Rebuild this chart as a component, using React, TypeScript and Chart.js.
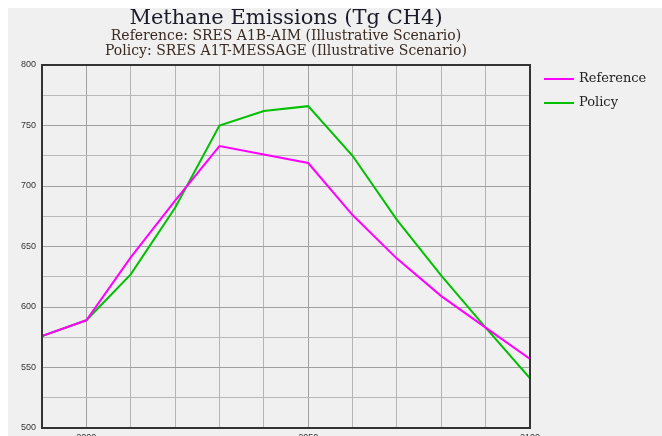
import React, { useEffect, useRef } from "react";
import { Chart, registerables } from "chart.js";

Chart.register(...registerables);

const years = [1990, 2000, 2010, 2020, 2030, 2040, 2050, 2060, 2070, 2080, 2090, 2100];
const referenceValues = [576, 589, 641, 688, 733, 726, 719, 676, 640, 609, 583, 557];
const policyValues = [576, 589, 627, 682, 750, 762, 766, 725, 672, 626, 583, 541];
const xTickLabels = [2000, 2050, 2100];
const yTickLabels = [500, 550, 600, 650, 700, 750, 800];

const titleText = "Methane Emissions (Tg CH4)";
const subtitleLines = [
  "Reference: SRES A1B-AIM (Illustrative Scenario)",
  "Policy: SRES A1T-MESSAGE (Illustrative Scenario)",
];

const W = 662;
const H = 450;
const SERIF = "'DejaVu Serif', 'Liberation Serif', serif";

export default function App() {
  const ref = useRef<HTMLCanvasElement | null>(null);

  useEffect(() => {
    if (!ref.current) return;
    const frame = {
      id: "frame",
      beforeDraw(chart: any) {
        const { ctx } = chart;
        ctx.save();
        ctx.fillStyle = "#ffffff";
        ctx.fillRect(0, 0, W, H);
        ctx.fillStyle = "#f0f0f0";
        ctx.fillRect(8, 8, W - 8, H - 8);
        ctx.restore();
      },
      afterDatasetsDraw(chart: any) {
        const { ctx, chartArea } = chart;
        ctx.save();
        ctx.strokeStyle = "#333";
        ctx.lineWidth = 2;
        ctx.strokeRect(chartArea.left, chartArea.top, chartArea.right - chartArea.left, chartArea.bottom - chartArea.top);
        ctx.restore();
      },
      afterDraw(chart: any) {
        const { ctx, chartArea } = chart;
        ctx.save();
        chart.data.datasets.forEach((ds: any, i: number) => {
          const y = chartArea.top + 14 + i * 24;
          const x0 = chartArea.right + 14;
          ctx.strokeStyle = ds.borderColor;
          ctx.lineWidth = 2;
          ctx.beginPath();
          ctx.moveTo(x0, y);
          ctx.lineTo(x0 + 30, y);
          ctx.stroke();
          ctx.fillStyle = "#222";
          ctx.font = "13px " + SERIF;
          ctx.textBaseline = "middle";
          ctx.textAlign = "left";
          ctx.fillText(ds.label, x0 + 35, y);
        });
        ctx.restore();
      },
    };
    const chart = new Chart(ref.current, {
      type: "line",
      data: {
        datasets: [
          {
            label: "Reference",
            data: years.map((y, i) => ({ x: y, y: referenceValues[i] })),
            borderColor: "#ff00ff",
            backgroundColor: "#ff00ff",
            borderWidth: 2,
            pointRadius: 0,
            tension: 0,
          },
          {
            label: "Policy",
            data: years.map((y, i) => ({ x: y, y: policyValues[i] })),
            borderColor: "#00c000",
            backgroundColor: "#00c000",
            borderWidth: 2,
            pointRadius: 0,
            tension: 0,
          },
        ],
      },
      options: {
        responsive: false,
        animation: false,
        devicePixelRatio: 1,
        layout: { padding: { top: 0, left: 0, right: 132, bottom: 0 } },
        plugins: {
          legend: { display: false },
          tooltip: { enabled: false },
          title: {
            display: true,
            text: titleText,
            fullSize: false,
            color: "#1a1a2a",
            font: { family: SERIF, size: 21, weight: "normal", lineHeight: "20px" },
            padding: { top: 9, bottom: 0 },
          },
          subtitle: {
            display: true,
            text: subtitleLines,
            fullSize: false,
            color: "#3a2a20",
            font: { family: SERIF, size: 14, weight: "normal", lineHeight: "15px" },
            padding: { top: 0, bottom: 6 },
          },
        },
        scales: {
          x: {
            type: "linear",
            min: 1990,
            max: 2100,
            afterFit: (s: any) => {
              s.height = H - 428;
            },
            ticks: {
              stepSize: 10,
              autoSkip: false,
              maxRotation: 0,
              padding: 4,
              color: "#333",
              font: { family: "'Liberation Sans', Arial, sans-serif", size: 9 },
              callback: (v: any) => (xTickLabels.includes(Number(v)) ? String(v) : ""),
            },
            grid: {
              drawTicks: false,
              color: (c: any) => (c.tick && c.tick.value % 50 === 0 ? "#a0a0a0" : "#b4b4b4"),
              lineWidth: 1,
            },
            border: { display: false },
          },
          y: {
            min: 500,
            max: 800,
            afterFit: (s: any) => {
              s.width = 42;
            },
            ticks: {
              stepSize: 25,
              autoSkip: false,
              padding: 6,
              color: "#333",
              font: { family: "'Liberation Sans', Arial, sans-serif", size: 9 },
              callback: (v: any) => (yTickLabels.includes(Number(v)) ? String(v) : ""),
            },
            grid: {
              drawTicks: false,
              color: (c: any) => (c.tick && c.tick.value % 50 === 0 ? "#a0a0a0" : "#b8b8b8"),
              lineWidth: 1,
            },
            border: { display: false },
          },
        },
      },
      plugins: [frame],
    } as any);
    return () => chart.destroy();
  }, []);

  return (
    <div style={{ position: "absolute", left: 0, top: 0, width: W, height: 436, overflow: "hidden", background: "#f0f0f0" }}>
      <canvas ref={ref} width={W} height={H} style={{ display: "block" }} />
    </div>
  );
}
